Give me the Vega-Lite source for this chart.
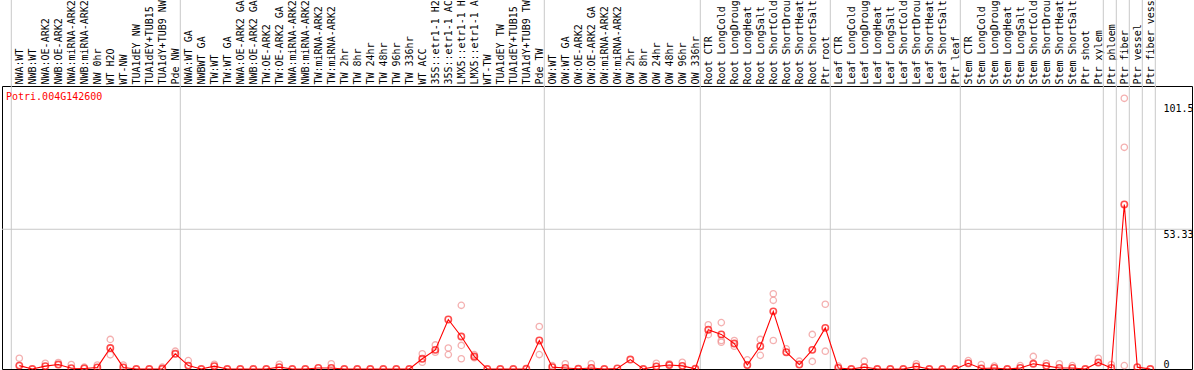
{
  "$schema": "https://vega.github.io/schema/vega-lite/v6.json",
  "width": 1190,
  "height": 283,
  "autosize": {"type": "none"},
  "padding": {"left": 2, "top": 86, "right": 2, "bottom": 1},
  "background": "white",
  "config": {"view": {"stroke": "black", "strokeWidth": 1}, "font": "DejaVu Sans Mono"},
  "title": {"text": "Potri.004G142600", "color": "#ff0000", "font": "DejaVu Sans Mono", "fontSize": 10, "fontWeight": "normal", "anchor": "start", "frame": "group", "orient": "top", "offset": -120, "dx": 4},
  "datasets": {
    "means": [
      {"i": 1, "cat": "NWA:WT", "v": 1.3},
      {"i": 2, "cat": "NWB:WT", "v": 0},
      {"i": 3, "cat": "NWA:OE-ARK2", "v": 1.1},
      {"i": 4, "cat": "NWB:OE-ARK2", "v": 1.7},
      {"i": 5, "cat": "NWA:miRNA-ARK2", "v": 0.3},
      {"i": 6, "cat": "NWB:miRNA-ARK2", "v": 0.2},
      {"i": 7, "cat": "NW 0hr", "v": 0.6},
      {"i": 8, "cat": "WT H2O", "v": 8},
      {"i": 9, "cat": "WT-NW", "v": 0.6},
      {"i": 10, "cat": "TUA1dEY NW", "v": 0},
      {"i": 11, "cat": "TUA1dEY+TUB15 NW", "v": 0},
      {"i": 12, "cat": "TUA1dY+TUB9 NW", "v": 0.1},
      {"i": 13, "cat": "Pde NW", "v": 5.8},
      {"i": 14, "cat": "NWA:WT GA", "v": 1.3},
      {"i": 15, "cat": "NWBWT GA", "v": 0},
      {"i": 16, "cat": "TW:WT", "v": 1.1},
      {"i": 17, "cat": "TW:WT GA", "v": 0},
      {"i": 18, "cat": "NWA:OE-ARK2 GA", "v": 0},
      {"i": 19, "cat": "NWB:OE-ARK2 GA", "v": 0},
      {"i": 20, "cat": "TW:OE-ARK2", "v": 0},
      {"i": 21, "cat": "TW:OE-ARK2 GA", "v": 0.7},
      {"i": 22, "cat": "NWA:miRNA-ARK2 ", "v": 0},
      {"i": 23, "cat": "NWB:miRNA-ARK2 ", "v": 0},
      {"i": 24, "cat": "TW:miRNA-ARK2", "v": 0.4},
      {"i": 25, "cat": "TW:miRNA-ARK2 ", "v": 0.4},
      {"i": 26, "cat": "TW 2hr", "v": 0},
      {"i": 27, "cat": "TW 8hr", "v": 0},
      {"i": 28, "cat": "TW 24hr", "v": 0},
      {"i": 29, "cat": "TW 48hr", "v": 0},
      {"i": 30, "cat": "TW 96hr", "v": 0},
      {"i": 31, "cat": "TW 336hr", "v": 0},
      {"i": 32, "cat": "WT ACC", "v": 3.9},
      {"i": 33, "cat": "35S::etr1-1 H2O", "v": 7.3},
      {"i": 34, "cat": "35S::etr1-1 ACC", "v": 18.9},
      {"i": 35, "cat": "LMX5::etr1-1 H2O", "v": 12.4},
      {"i": 36, "cat": "LMX5::etr1-1 ACC", "v": 4.8},
      {"i": 37, "cat": "WT-TW", "v": 0},
      {"i": 38, "cat": "TUA1dEY TW", "v": 0},
      {"i": 39, "cat": "TUA1dEY+TUB15 TW", "v": 0},
      {"i": 40, "cat": "TUA1dY+TUB9 TW", "v": 0.1},
      {"i": 41, "cat": "Pde TW", "v": 10.9},
      {"i": 42, "cat": "OW:WT", "v": 0.7},
      {"i": 43, "cat": "OW:WT GA", "v": 0.4},
      {"i": 44, "cat": "OW:OE-ARK2", "v": 0.1},
      {"i": 45, "cat": "OW:OE-ARK2 GA", "v": 0.4},
      {"i": 46, "cat": "OW:miRNA-ARK2", "v": 0},
      {"i": 47, "cat": "OW:miRNA-ARK2 ", "v": 0.2},
      {"i": 48, "cat": "OW 2hr", "v": 3.6},
      {"i": 49, "cat": "OW 8hr", "v": 0},
      {"i": 50, "cat": "OW 24hr", "v": 1},
      {"i": 51, "cat": "OW 48hr", "v": 1.5},
      {"i": 52, "cat": "OW 96hr", "v": 1.2},
      {"i": 53, "cat": "OW 336hr", "v": 0.1},
      {"i": 54, "cat": "Root CTR", "v": 15},
      {"i": 55, "cat": "Root LongCold", "v": 13.2},
      {"i": 56, "cat": "Root LongDrought", "v": 9.7},
      {"i": 57, "cat": "Root LongHeat", "v": 1.5},
      {"i": 58, "cat": "Root LongSalt", "v": 8.7},
      {"i": 59, "cat": "Root ShortCold", "v": 22},
      {"i": 60, "cat": "Root ShortDrought", "v": 6.4},
      {"i": 61, "cat": "Root ShortHeat", "v": 1.7},
      {"i": 62, "cat": "Root ShortSalt", "v": 7.3},
      {"i": 63, "cat": "Ptr root", "v": 15.7},
      {"i": 64, "cat": "Leaf CTR", "v": 0.4},
      {"i": 65, "cat": "Leaf LongCold", "v": 0},
      {"i": 66, "cat": "Leaf LongDrought", "v": 0.7},
      {"i": 67, "cat": "Leaf LongHeat", "v": 0},
      {"i": 68, "cat": "Leaf LongSalt", "v": 0},
      {"i": 69, "cat": "Leaf ShortCold", "v": 0},
      {"i": 70, "cat": "Leaf ShortDrought", "v": 1},
      {"i": 71, "cat": "Leaf ShortHeat", "v": 0},
      {"i": 72, "cat": "Leaf ShortSalt", "v": 0},
      {"i": 73, "cat": "Ptr leaf", "v": 0},
      {"i": 74, "cat": "Stem CTR", "v": 2.2},
      {"i": 75, "cat": "Stem LongCold", "v": 0.2},
      {"i": 76, "cat": "Stem LongDrought", "v": 0.4},
      {"i": 77, "cat": "Stem LongHeat", "v": 0},
      {"i": 78, "cat": "Stem LongSalt", "v": 0.4},
      {"i": 79, "cat": "Stem ShortCold", "v": 2},
      {"i": 80, "cat": "Stem ShortDrought", "v": 1.2},
      {"i": 81, "cat": "Stem ShortHeat", "v": 0.4},
      {"i": 82, "cat": "Stem ShortSalt", "v": 0.4},
      {"i": 83, "cat": "Ptr shoot", "v": 0},
      {"i": 84, "cat": "Ptr xylem", "v": 2.5},
      {"i": 85, "cat": "Ptr phloem", "v": 0.4},
      {"i": 86, "cat": "Ptr fiber", "v": 62.8},
      {"i": 87, "cat": "Ptr vessel", "v": 0.7},
      {"i": 88, "cat": "Ptr fiber vessel", "v": 0}
    ],
    "reps": [
      {"cat": "NWA:WT", "v": 4.1},
      {"cat": "NWA:OE-ARK2", "v": 2.2},
      {"cat": "NWB:OE-ARK2", "v": 2.5},
      {"cat": "NWA:miRNA-ARK2", "v": 1.7},
      {"cat": "NWB:miRNA-ARK2", "v": 0.7},
      {"cat": "NW 0hr", "v": 1.5},
      {"cat": "WT H2O", "v": 11.3},
      {"cat": "WT H2O", "v": 5.4},
      {"cat": "WT-NW", "v": 1.5},
      {"cat": "TUA1dY+TUB9 NW", "v": 0.7},
      {"cat": "Pde NW", "v": 6.8},
      {"cat": "NWA:WT GA", "v": 3.2},
      {"cat": "TW:WT", "v": 1.8},
      {"cat": "TW:OE-ARK2 GA", "v": 1.8},
      {"cat": "TW:miRNA-ARK2 ", "v": 2},
      {"cat": "WT ACC", "v": 5.8},
      {"cat": "WT ACC", "v": 2.6},
      {"cat": "35S::etr1-1 H2O", "v": 9.2},
      {"cat": "35S::etr1-1 H2O", "v": 6.4},
      {"cat": "35S::etr1-1 ACC", "v": 8},
      {"cat": "35S::etr1-1 ACC", "v": 5.5},
      {"cat": "LMX5::etr1-1 H2O", "v": 24.3},
      {"cat": "LMX5::etr1-1 H2O", "v": 9},
      {"cat": "LMX5::etr1-1 H2O", "v": 3.9},
      {"cat": "LMX5::etr1-1 ACC", "v": 5.5},
      {"cat": "LMX5::etr1-1 ACC", "v": 4.3},
      {"cat": "Pde TW", "v": 16.2},
      {"cat": "Pde TW", "v": 5.5},
      {"cat": "OW:WT", "v": 1.3},
      {"cat": "OW:WT GA", "v": 2},
      {"cat": "OW:OE-ARK2 GA", "v": 2},
      {"cat": "OW 24hr", "v": 2.2},
      {"cat": "OW 48hr", "v": 2},
      {"cat": "OW 96hr", "v": 2.6},
      {"cat": "Root CTR", "v": 16.9},
      {"cat": "Root CTR", "v": 13.1},
      {"cat": "Root LongCold", "v": 17.7},
      {"cat": "Root LongCold", "v": 10.9},
      {"cat": "Root LongCold", "v": 10.2},
      {"cat": "Root LongDrought", "v": 10.9},
      {"cat": "Root LongDrought", "v": 8.7},
      {"cat": "Root LongHeat", "v": 3.5},
      {"cat": "Root LongSalt", "v": 11.3},
      {"cat": "Root LongSalt", "v": 5.2},
      {"cat": "Root ShortCold", "v": 28.7},
      {"cat": "Root ShortCold", "v": 26.2},
      {"cat": "Root ShortCold", "v": 10.9},
      {"cat": "Root ShortDrought", "v": 7.7},
      {"cat": "Root ShortHeat", "v": 3},
      {"cat": "Root ShortSalt", "v": 13.2},
      {"cat": "Root ShortSalt", "v": 2.9},
      {"cat": "Ptr root", "v": 24.7},
      {"cat": "Ptr root", "v": 6.8},
      {"cat": "Leaf CTR", "v": 1.1},
      {"cat": "Leaf LongDrought", "v": 3},
      {"cat": "Leaf ShortDrought", "v": 2},
      {"cat": "Stem CTR", "v": 3.2},
      {"cat": "Stem LongCold", "v": 1.7},
      {"cat": "Stem LongDrought", "v": 1.1},
      {"cat": "Stem LongSalt", "v": 1.3},
      {"cat": "Stem ShortCold", "v": 4.8},
      {"cat": "Stem ShortDrought", "v": 2.2},
      {"cat": "Stem ShortHeat", "v": 2},
      {"cat": "Stem ShortSalt", "v": 1.3},
      {"cat": "Ptr xylem", "v": 4.1},
      {"cat": "Ptr phloem", "v": 1.7},
      {"cat": "Ptr fiber", "v": 103.3},
      {"cat": "Ptr fiber", "v": 84.6},
      {"cat": "Ptr fiber", "v": 1.3}
    ],
    "bounds": [
      {"cat": "NWA:WT"},
      {"cat": "NWA:WT GA"},
      {"cat": "OW:WT"},
      {"cat": "Root CTR"},
      {"cat": "Leaf CTR"},
      {"cat": "Stem CTR"},
      {"cat": "Ptr phloem"},
      {"cat": "Ptr fiber"},
      {"cat": "Ptr vessel"},
      {"cat": "Ptr fiber vessel"}
    ],
    "lastBound": [
      {"cat": "Ptr fiber vessel"}
    ]
  },
  "encoding": {
    "x": {
      "field": "cat", "type": "nominal",
      "scale": {
        "type": "band", "paddingInner": 0, "paddingOuter": 0, "range": [9.3, 1153.3],
        "domain": ["NWA:WT", "NWB:WT", "NWA:OE-ARK2", "NWB:OE-ARK2", "NWA:miRNA-ARK2", "NWB:miRNA-ARK2", "NW 0hr", "WT H2O", "WT-NW", "TUA1dEY NW", "TUA1dEY+TUB15 NW", "TUA1dY+TUB9 NW", "Pde NW", "NWA:WT GA", "NWBWT GA", "TW:WT", "TW:WT GA", "NWA:OE-ARK2 GA", "NWB:OE-ARK2 GA", "TW:OE-ARK2", "TW:OE-ARK2 GA", "NWA:miRNA-ARK2 ", "NWB:miRNA-ARK2 ", "TW:miRNA-ARK2", "TW:miRNA-ARK2 ", "TW 2hr", "TW 8hr", "TW 24hr", "TW 48hr", "TW 96hr", "TW 336hr", "WT ACC", "35S::etr1-1 H2O", "35S::etr1-1 ACC", "LMX5::etr1-1 H2O", "LMX5::etr1-1 ACC", "WT-TW", "TUA1dEY TW", "TUA1dEY+TUB15 TW", "TUA1dY+TUB9 TW", "Pde TW", "OW:WT", "OW:WT GA", "OW:OE-ARK2", "OW:OE-ARK2 GA", "OW:miRNA-ARK2", "OW:miRNA-ARK2 ", "OW 2hr", "OW 8hr", "OW 24hr", "OW 48hr", "OW 96hr", "OW 336hr", "Root CTR", "Root LongCold", "Root LongDrought", "Root LongHeat", "Root LongSalt", "Root ShortCold", "Root ShortDrought", "Root ShortHeat", "Root ShortSalt", "Ptr root", "Leaf CTR", "Leaf LongCold", "Leaf LongDrought", "Leaf LongHeat", "Leaf LongSalt", "Leaf ShortCold", "Leaf ShortDrought", "Leaf ShortHeat", "Leaf ShortSalt", "Ptr leaf", "Stem CTR", "Stem LongCold", "Stem LongDrought", "Stem LongHeat", "Stem LongSalt", "Stem ShortCold", "Stem ShortDrought", "Stem ShortHeat", "Stem ShortSalt", "Ptr shoot", "Ptr xylem", "Ptr phloem", "Ptr fiber", "Ptr vessel", "Ptr fiber vessel"]
      },
      "axis": {
        "orient": "top", "labelAngle": -90, "labelAlign": "left", "labelBaseline": "middle",
        "ticks": false, "domain": false, "grid": false, "title": null,
        "labelPadding": 2, "labelOffset": 2, "labelFont": "DejaVu Sans Mono", "labelFontSize": 10, "labelColor": "#000000",
        "labelOverlap": false, "labelLimit": 300
      }
    }
  },
  "layer": [
    {
      "data": {"name": "bounds"},
      "mark": {"type": "rule", "color": "#c8c8c8", "strokeWidth": 1},
      "encoding": {
        "x": {"field": "cat", "type": "nominal", "bandPosition": 0},
        "y": {
          "datum": 0, "type": "quantitative",
          "scale": {"domain": [0, 108], "nice": false, "zero": true},
          "axis": {
            "orient": "right", "values": [0, 53.33, 101.5], "format": ".4~g",
            "title": null, "domain": false, "ticks": false, "grid": false, "labelPadding": -29,
            "labelFont": "DejaVu Sans Mono", "labelFontSize": 10, "labelColor": "#000000", "labelAlign": "left",
            "labelBaseline": {"condition": {"test": "datum.value === 0", "value": "bottom"}, "value": "top"}
          }
        },
        "y2": {"datum": 141}
      }
    },
    {
      "data": {"name": "lastBound"},
      "mark": {"type": "rule", "color": "#c8c8c8", "strokeWidth": 1},
      "encoding": {
        "x": {"field": "cat", "type": "nominal", "bandPosition": 1},
        "y": {
          "datum": 0, "type": "quantitative",
          "scale": {"domain": [0, 108], "nice": false, "zero": true},
          "axis": {
            "orient": "right", "values": [0, 53.33, 101.5], "format": ".4~g",
            "title": null, "domain": false, "ticks": false, "grid": false, "labelPadding": -29,
            "labelFont": "DejaVu Sans Mono", "labelFontSize": 10, "labelColor": "#000000", "labelAlign": "left",
            "labelBaseline": {"condition": {"test": "datum.value === 0", "value": "bottom"}, "value": "top"}
          }
        },
        "y2": {"datum": 141}
      }
    },
    {
      "data": {"values": [{}]},
      "mark": {"type": "rule", "color": "#c8c8c8", "strokeWidth": 1},
      "encoding": {
        "x": null,
        "y": {
          "datum": 53.33, "type": "quantitative",
          "scale": {"domain": [0, 108], "nice": false, "zero": true},
          "axis": {
            "orient": "right", "values": [0, 53.33, 101.5], "format": ".4~g",
            "title": null, "domain": false, "ticks": false, "grid": false, "labelPadding": -29,
            "labelFont": "DejaVu Sans Mono", "labelFontSize": 10, "labelColor": "#000000", "labelAlign": "left",
            "labelBaseline": {"condition": {"test": "datum.value === 0", "value": "bottom"}, "value": "top"}
          }
        }
      }
    },
    {
      "data": {"name": "reps"},
      "mark": {"type": "point", "shape": "circle", "filled": false, "color": "#f09090", "strokeWidth": 1.3, "size": 40, "xOffset": 1.5},
      "encoding": {
        "y": {
          "field": "v", "type": "quantitative",
          "scale": {"domain": [0, 108], "nice": false, "zero": true},
          "axis": {
            "orient": "right", "values": [0, 53.33, 101.5], "format": ".4~g",
            "title": null, "domain": false, "ticks": false, "grid": false, "labelPadding": -29,
            "labelFont": "DejaVu Sans Mono", "labelFontSize": 10, "labelColor": "#000000", "labelAlign": "left",
            "labelBaseline": {"condition": {"test": "datum.value === 0", "value": "bottom"}, "value": "top"}
          }
        }
      }
    },
    {
      "data": {"name": "means"},
      "mark": {"type": "line", "color": "#ff0000", "strokeWidth": 1.1, "xOffset": 1.5},
      "encoding": {
        "y": {
          "field": "v", "type": "quantitative",
          "scale": {"domain": [0, 108], "nice": false, "zero": true},
          "axis": {
            "orient": "right", "values": [0, 53.33, 101.5], "format": ".4~g",
            "title": null, "domain": false, "ticks": false, "grid": false, "labelPadding": -29,
            "labelFont": "DejaVu Sans Mono", "labelFontSize": 10, "labelColor": "#000000", "labelAlign": "left",
            "labelBaseline": {"condition": {"test": "datum.value === 0", "value": "bottom"}, "value": "top"}
          }
        },
        "order": {"field": "i", "type": "quantitative"}
      }
    },
    {
      "data": {"name": "means"},
      "mark": {"type": "point", "shape": "circle", "filled": false, "color": "#ff0000", "strokeWidth": 1.6, "size": 40, "xOffset": 1.5},
      "encoding": {
        "y": {
          "field": "v", "type": "quantitative",
          "scale": {"domain": [0, 108], "nice": false, "zero": true},
          "axis": {
            "orient": "right", "values": [0, 53.33, 101.5], "format": ".4~g",
            "title": null, "domain": false, "ticks": false, "grid": false, "labelPadding": -29,
            "labelFont": "DejaVu Sans Mono", "labelFontSize": 10, "labelColor": "#000000", "labelAlign": "left",
            "labelBaseline": {"condition": {"test": "datum.value === 0", "value": "bottom"}, "value": "top"}
          }
        }
      }
    }
  ]
}
